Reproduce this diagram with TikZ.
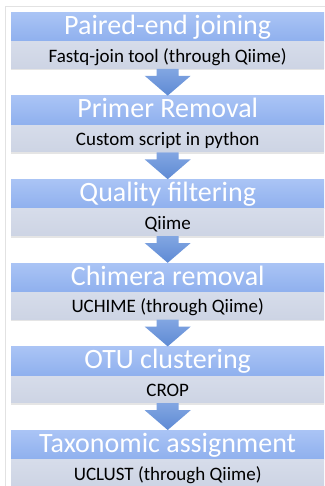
\documentclass[tikz,border=0pt]{standalone}
\usepackage{fontspec}
\setmainfont{Carlito}
\usetikzlibrary{calc}
\definecolor{bluetop}{HTML}{AAC4F5}
\definecolor{bluebot}{HTML}{8FB0EE}
\definecolor{graytop}{HTML}{D6DCEA}
\definecolor{graybot}{HTML}{CDD4E4}
\definecolor{arrtop}{HTML}{82A6E2}
\definecolor{arrbot}{HTML}{5E8AD4}
\definecolor{framecol}{HTML}{E2E2E2}
\tikzset{
  titlebox/.style={rectangle, inner sep=0pt, anchor=north west,
    minimum width=313pt, minimum height=29pt,
    text height=22pt, text depth=7pt,
    top color=bluetop, bottom color=bluebot,
    text=white, font=\fontsize{28}{28}\selectfont},
  subbox/.style={rectangle, inner sep=0pt, anchor=north west,
    minimum width=313pt, minimum height=27pt,
    text height=20.5pt, text depth=6.5pt,
    top color=graytop, bottom color=graybot,
    text=black, font=\fontsize{19}{19}\selectfont},
  flowarrow/.style={top color=arrtop, bottom color=arrbot, draw=none}
}
\newcommand{\flowarr}[2]{%
  \path[flowarrow] ($(#1.south)+(-11,0)$) -- ($(#1.south)+(-11,7)$)
    -- ($(#1.south)+(-23,7)$) -- (#2.north) -- ($(#1.south)+(23,7)$)
    -- ($(#1.south)+(11,7)$) -- ($(#1.south)+(11,0)$) -- cycle;}
\newcommand{\stepshadow}[1]{%
  \fill[black!10] ($(#1.south west)+(0,0)$) rectangle ($(#1.south east)+(0,1.5)$);}
\begin{document}
\begin{tikzpicture}[x=1pt,y=-1pt]
\useasboundingbox (0,0) rectangle (324,486);
\fill[white] (0,0) rectangle (324,486);
\draw[framecol, line width=0.8pt] (5,490) -- (5,6) -- (330,6);

\node[titlebox] (t1) at (11,12.0) {Paired-end joining};
\node[subbox] (s1) at (t1.south west) {Fastq-join tool (through Qiime)};

\node[titlebox] (t2) at (11,95.6) {Primer Removal};
\node[subbox] (s2) at (t2.south west) {Custom script in python};

\node[titlebox] (t3) at (11,179.2) {Quality filtering};
\node[subbox] (s3) at (t3.south west) {Qiime};

\node[titlebox] (t4) at (11,262.8) {Chimera removal};
\node[subbox] (s4) at (t4.south west) {UCHIME (through Qiime)};

\node[titlebox] (t5) at (11,346.4) {OTU clustering};
\node[subbox] (s5) at (t5.south west) {CROP};

\node[titlebox] (t6) at (11,430.0) {Taxonomic assignment};
\node[subbox] (s6) at (t6.south west) {UCLUST (through Qiime)};

\stepshadow{s1}\stepshadow{s2}\stepshadow{s3}\stepshadow{s4}\stepshadow{s5}

\flowarr{s1}{t2}
\flowarr{s2}{t3}
\flowarr{s3}{t4}
\flowarr{s4}{t5}
\flowarr{s5}{t6}
\end{tikzpicture}
\end{document}
